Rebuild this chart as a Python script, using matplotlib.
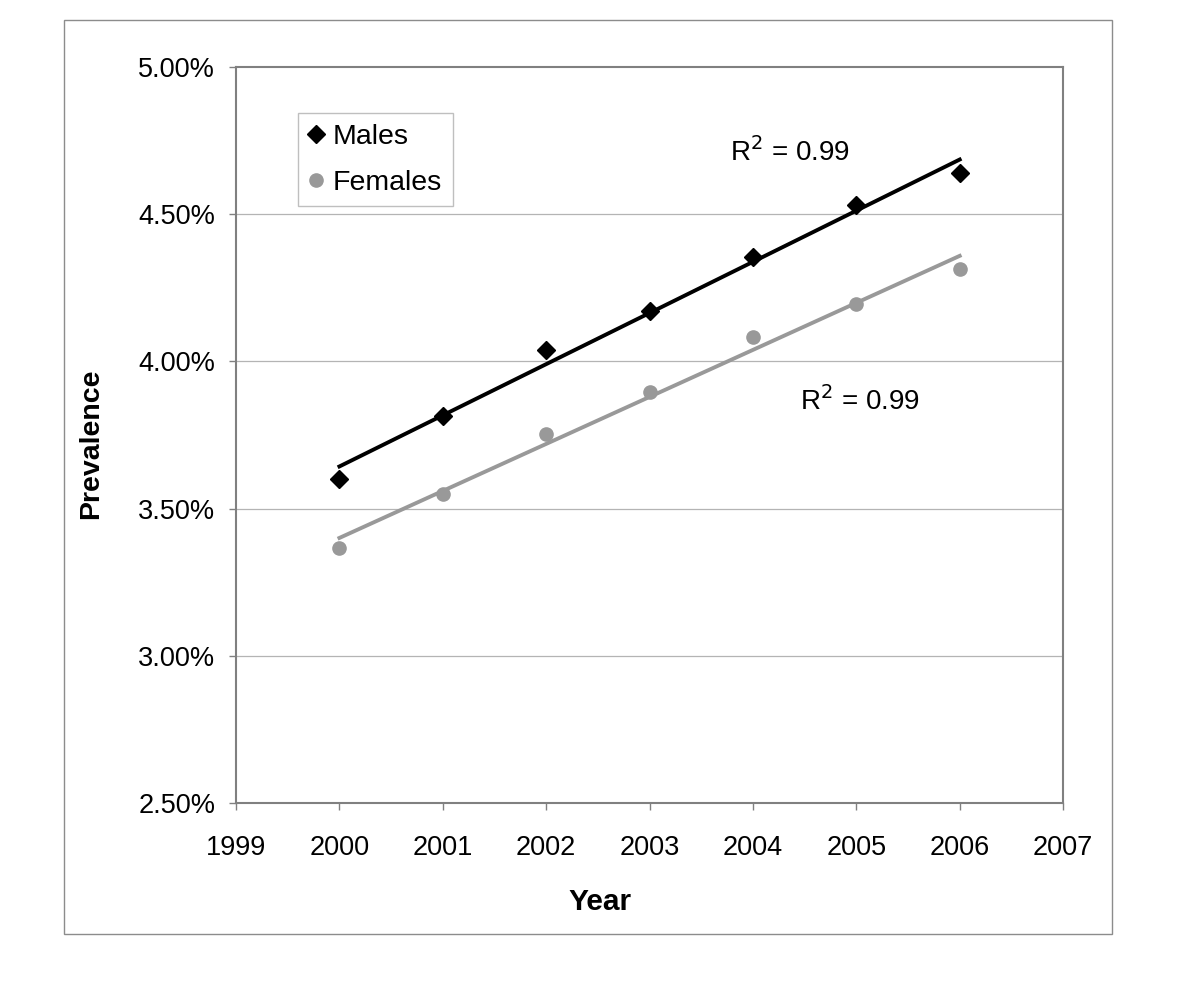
import numpy as np
import matplotlib
matplotlib.use("Agg")
import matplotlib.pyplot as plt
from matplotlib.patches import Rectangle
from matplotlib.ticker import FuncFormatter

plt.rcParams['font.family'] = ['Liberation Sans', 'DejaVu Sans']

years = [2000, 2001, 2002, 2003, 2004, 2005, 2006]
males = [3.60, 3.815, 4.04, 4.17, 4.355, 4.53, 4.64]
females = [3.365, 3.55, 3.752, 3.895, 4.083, 4.195, 4.315]
x_ticks = [1999, 2000, 2001, 2002, 2003, 2004, 2005, 2006, 2007]
y_ticks = [2.5, 3.0, 3.5, 4.0, 4.5, 5.0]
r2_labels = ["R$^2$ = 0.99", "R$^2$ = 0.99"]

fig = plt.figure(figsize=(12, 9.89), dpi=100)
fig.patches.append(Rectangle((0.0533, 0.0556), 0.8734, 0.9242, transform=fig.transFigure,
                             fill=False, edgecolor='#8c8c8c', linewidth=1.0))
ax = fig.add_axes([0.1967, 0.1881, 0.6892, 0.7442])

grid_gray = '#b4b4b4'
for y in y_ticks[1:-1]:
    ax.axhline(y, color=grid_gray, linewidth=0.9, zorder=0)

gray = '#999999'
xs = np.array(years, dtype=float)
mc = np.polyfit(xs, males, 1)
fc = np.polyfit(xs, females, 1)
ax.plot(xs, np.polyval(mc, xs), color='black', linewidth=2.8, zorder=2)
ax.plot(xs, np.polyval(fc, xs), color=gray, linewidth=2.8, zorder=2)
ax.plot(years, males, linestyle='none', marker='D', markersize=9, color='black',
        label='Males', zorder=3)
ax.plot(years, females, linestyle='none', marker='o', markersize=9.5, color=gray,
        markeredgecolor=gray, label='Females', zorder=3)

ax.set_xlim(1999, 2007)
ax.set_ylim(2.5, 5.0)
ax.set_xticks(x_ticks)
ax.set_yticks(y_ticks)
ax.yaxis.set_major_formatter(FuncFormatter(lambda v, p: f"{v:.2f}%"))
ax.tick_params(axis='both', direction='out', length=5, width=1.0, color='#808080',
               labelsize=19.5)
ax.tick_params(axis='y', pad=10)
ax.tick_params(axis='x', pad=18)
for s in ['left', 'bottom', 'right', 'top']:
    ax.spines[s].set_color('#808080')
    ax.spines[s].set_linewidth(1.5)

ax.set_xlabel('Year', fontsize=21.5, fontweight='bold')
ax.xaxis.set_label_coords(0.44, -0.116)
ax.set_ylabel('Prevalence', fontsize=20.5, fontweight='bold')
ax.yaxis.set_label_coords(-0.16, 0.488)

ax.text(2003.78, 4.712, r2_labels[0], fontsize=20, va='center', ha='left')
ax.text(2004.46, 3.865, r2_labels[1], fontsize=20, va='center', ha='left')

leg = ax.legend(loc='upper left', bbox_to_anchor=(0.075, 0.937), fontsize=20.5,
                frameon=True, fancybox=False, handlelength=0.5, handletextpad=0.35,
                borderpad=0.38, labelspacing=0.68, borderaxespad=0)
leg.get_frame().set_edgecolor('#b0b0b0')
leg.get_frame().set_linewidth(1.0)

fig.savefig('out.png', dpi=100)
